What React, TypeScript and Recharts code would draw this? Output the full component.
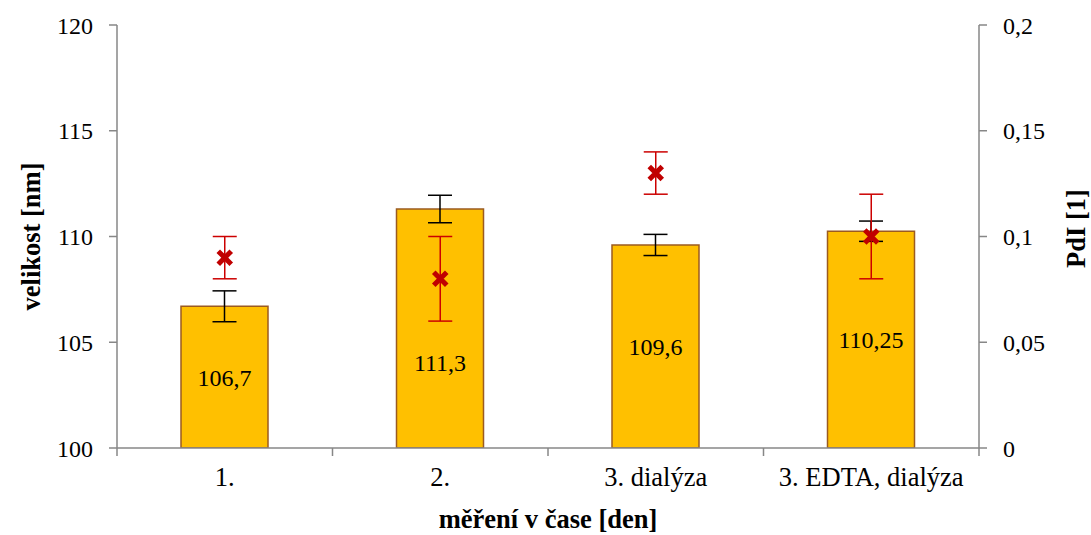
import React from 'react';
import { ComposedChart, Bar, Line, XAxis, YAxis, ErrorBar, LabelList } from 'recharts';

const categories = ['1.', '2.', '3. dialýza', '3. EDTA, dialýza'];
const sizeValues = [106.7, 111.3, 109.6, 110.25];
const sizeErrors = [0.73, 0.65, 0.5, 0.48];
const pdiValues = [0.09, 0.08, 0.13, 0.1];
const pdiErrors = [0.01, 0.02, 0.01, 0.02];
const sizeTicks = [100, 105, 110, 115, 120];
const pdiTicks = [0, 0.05, 0.1, 0.15, 0.2];

const labelShift = [0, 34, 0, 0];

const data = categories.map((c, i) => ({
  name: c,
  size: sizeValues[i],
  sizeErr: sizeErrors[i],
  pdi: pdiValues[i],
  pdiErr: pdiErrors[i],
}));

const FONT = 'Liberation Serif, Times New Roman, DejaVu Serif, serif';
const AXIS = '#878787';
const TICK_SIZE = 8;
const X_TICK_MARGIN = 11;

const txt: React.CSSProperties = { fontFamily: FONT, fontSize: 24 };
const catTxt: React.CSSProperties = { fontFamily: FONT, fontSize: 26.5 };
const bold: React.CSSProperties = { fontFamily: FONT, fontSize: 26.5, fontWeight: 'bold' };

const comma = (v: number) => String(v).replace('.', ',');

const XTick = (props: any) => {
  const { x, y, payload, index } = props;
  const off = payload.offset || 0;
  const axisY = y - TICK_SIZE - X_TICK_MARGIN;
  return (
    <g>
      <line x1={x - off} x2={x - off} y1={axisY} y2={axisY + TICK_SIZE} stroke={AXIS} strokeWidth={1.5} />
      {index === categories.length - 1 && (
        <line x1={x + off} x2={x + off} y1={axisY} y2={axisY + TICK_SIZE} stroke={AXIS} strokeWidth={1.5} />
      )}
      <text x={x} y={y} dy="0.71em" textAnchor="middle" style={catTxt} fill="#000">
        {payload.value}
      </text>
    </g>
  );
};

const YTick = (props: any) => {
  const { x, y, payload, textAnchor } = props;
  return (
    <text x={x} y={y} dy="0.355em" textAnchor={textAnchor} style={txt} fill="#000">
      {comma(payload.value)}
    </text>
  );
};

const XMark = (props: any) => {
  const { cx, cy, index } = props;
  if (cx == null || cy == null) return <g key={`m${index}`} />;
  const s = 6.5;
  return (
    <g key={`m${index}`}>
      <path
        d={`M${cx - s},${cy - s}L${cx + s},${cy + s}M${cx - s},${cy + s}L${cx + s},${cy - s}`}
        stroke="#C00000"
        strokeWidth={5}
        strokeLinecap="butt"
      />
    </g>
  );
};

const BarLabel = (props: any) => {
  const { x, y, width, height, value, index } = props;
  return (
    <text
      x={x + width / 2}
      y={y + height / 2 + (labelShift[index] || 0)}
      dy="0.355em"
      textAnchor="middle"
      style={txt}
      fill="#000"
    >
      {comma(value)}
    </text>
  );
};

export default function App() {
  return (
    <div style={{ position: 'absolute', left: 0, top: 0, width: 1091, height: 535, background: '#fff' }}>
      <ComposedChart
        width={1091}
        height={535}
        data={data}
        margin={{ top: 25, right: 0, bottom: 0, left: 0 }}
        barSize={87}
      >
        <XAxis
          dataKey="name"
          height={87}
          axisLine={{ stroke: AXIS, strokeWidth: 1.5 }}
          tickLine={false}
          tickSize={TICK_SIZE}
          tickMargin={X_TICK_MARGIN}
          tick={XTick}
          interval={0}
          label={{
            content: (p: any) => {
              const vb = p.viewBox;
              return (
                <text x={vb.x + vb.width / 2} y={528} textAnchor="middle" style={bold} fill="#000">
                  měření v čase [den]
                </text>
              );
            },
          }}
        />
        <YAxis
          yAxisId="size"
          width={117}
          domain={[100, 120]}
          ticks={sizeTicks}
          allowDataOverflow
          axisLine={{ stroke: AXIS, strokeWidth: 1.5 }}
          tickLine={{ stroke: AXIS, strokeWidth: 1.5 }}
          tickSize={TICK_SIZE}
          tickMargin={16}
          tick={YTick}
          label={{
            content: (p: any) => {
              const vb = p.viewBox;
              const cy = vb.y + vb.height / 2;
              return (
                <text x={40} y={cy} transform={`rotate(-90, 40, ${cy})`} textAnchor="middle" style={bold} fill="#000">
                  velikost [nm]
                </text>
              );
            },
          }}
        />
        <YAxis
          yAxisId="pdi"
          orientation="right"
          width={112}
          domain={[0, 0.2]}
          ticks={pdiTicks}
          allowDataOverflow
          axisLine={{ stroke: AXIS, strokeWidth: 1.5 }}
          tickLine={{ stroke: AXIS, strokeWidth: 1.5 }}
          tickSize={TICK_SIZE}
          tickMargin={16}
          tick={YTick}
          label={{
            content: (p: any) => {
              const vb = p.viewBox;
              const cy = vb.y + vb.height / 2 - 8;
              return (
                <text x={1085} y={cy} transform={`rotate(-90, 1085, ${cy})`} textAnchor="middle" style={bold} fill="#000">
                  PdI [1]
                </text>
              );
            },
          }}
        />
        <Bar yAxisId="size" dataKey="size" fill="#FFC000" stroke="#9B5B20" strokeWidth={1.5} isAnimationActive={false}>
          <ErrorBar dataKey="sizeErr" width={12} stroke="#000" strokeWidth={1.5} direction="y" />
          <LabelList dataKey="size" content={BarLabel} />
        </Bar>
        <Line
          yAxisId="pdi"
          dataKey="pdi"
          stroke="none"
          strokeWidth={0}
          dot={XMark}
          activeDot={false}
          isAnimationActive={false}
        >
          <ErrorBar dataKey="pdiErr" width={12} stroke="#CC0000" strokeWidth={1.5} direction="y" />
        </Line>
      </ComposedChart>
    </div>
  );
}
